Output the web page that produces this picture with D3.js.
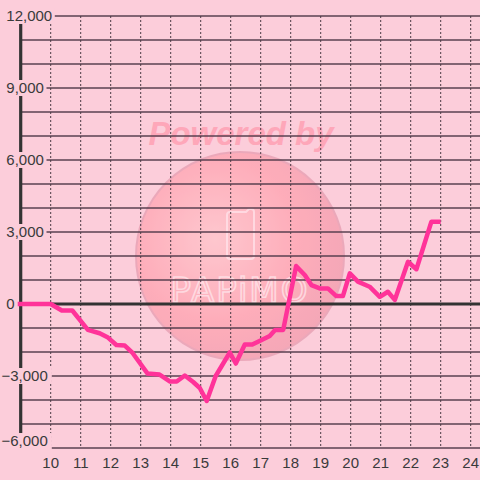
<!DOCTYPE html>
<html><head><meta charset="utf-8">
<script src="https://cdn.jsdelivr.net/npm/d3@7"></script>
<style>html,body{margin:0;padding:0;background:#fccdda;}svg{display:block;}</style>
</head><body>
<svg id="c" width="480" height="480"></svg>
<script>
const hours = [8.9, 10.0, 10.37, 10.72, 11.24, 11.63, 11.91, 12.19, 12.47, 12.73, 13.23, 13.63, 13.98, 14.2, 14.47, 14.75, 14.97, 15.2, 15.5, 15.97, 16.17, 16.47, 16.72, 17.03, 17.3, 17.48, 17.75, 18.18, 18.47, 18.69, 18.97, 19.24, 19.52, 19.74, 19.97, 20.24, 20.63, 20.97, 21.24, 21.47, 21.91, 22.19, 22.69, 23.0];
const values = [0, 0, -270, -270, -1080, -1220, -1400, -1710, -1730, -2040, -2900, -2940, -3230, -3230, -2980, -3250, -3500, -4040, -3000, -2020, -2480, -1690, -1690, -1500, -1330, -1080, -1080, 1580, 1210, 790, 650, 650, 330, 330, 1280, 930, 720, 300, 510, 170, 1760, 1450, 3430, 3430];
const xTicks = [10, 11, 12, 13, 14, 15, 16, 17, 18, 19, 20, 21, 22, 23, 24];
const yTickLabels = [-6000, -3000, 0, 3000, 6000, 9000, 12000];
const yGridValues = d3.range(-6000, 12001, 1000);

const svg = d3.select("#c");
const x = d3.scaleLinear().domain([9, 24.3]).range([20.7, 479.7]);
const y = d3.scaleLinear().domain([-6000, 12000]).range([448, 16]);

svg.append("rect").attr("width", 480).attr("height", 480).attr("fill", "#fccdda");

// watermark
const defs = svg.append("defs");
const rg = defs.append("radialGradient").attr("id", "wg")
  .attr("cx", "0.38").attr("cy", "0.42").attr("r", "0.7");
rg.append("stop").attr("offset", "0").attr("stop-color", "#ffc6cc");
rg.append("stop").attr("offset", "0.55").attr("stop-color", "#ffa6b3");
rg.append("stop").attr("offset", "1").attr("stop-color", "#f09cae");
const wm = svg.append("g");
wm.append("circle").attr("cx", 240).attr("cy", 256).attr("r", 104)
  .attr("fill", "url(#wg)").attr("opacity", 0.8)
  .attr("stroke", "#e8a0b3").attr("stroke-width", 2);
wm.append("text").attr("x", 241).attr("y", 145).attr("text-anchor", "middle")
  .attr("font-family", "Liberation Sans, Arial, sans-serif").attr("font-size", 33)
  .attr("font-weight", "bold").attr("font-style", "italic")
  .attr("fill", "#ffa3b6").attr("opacity", 0.9).text("Powered by");
wm.append("path").attr("d", "M230,212 h16 l3,-3 h2 a3,3 0 0 1 3,3 v44 a3,3 0 0 1 -3,3 h-21 a3,3 0 0 1 -3,-3 v-41 a3,3 0 0 1 3,-3 z")
  .attr("fill", "none").attr("stroke", "#ffe6ec").attr("stroke-width", 2).attr("opacity", 0.7);
wm.append("text").attr("x", 240).attr("y", 302).attr("text-anchor", "middle")
  .attr("font-family", "DejaVu Sans, sans-serif").attr("font-size", 34).attr("letter-spacing", 2)
  .attr("fill", "none").attr("stroke", "#ffe6ec").attr("stroke-width", 1.6).attr("opacity", 0.75)
  .text("PAPiMO");

// horizontal gridlines
svg.append("g").selectAll("line").data(yGridValues.filter(v => v !== 0)).join("line")
  .attr("x1", x(9)).attr("x2", 480).attr("y1", d => y(d)).attr("y2", d => y(d))
  .attr("stroke", "#5a4050").attr("stroke-width", 1.3);

// vertical dotted gridlines
svg.append("g").selectAll("line").data(xTicks).join("line")
  .attr("x1", d => x(d)).attr("x2", d => x(d)).attr("y1", y(12000)).attr("y2", y(-6000))
  .attr("stroke", "#4a3a44").attr("stroke-width", 1).attr("stroke-dasharray", "2,2");

// zero line
svg.append("line").attr("x1", x(9)).attr("x2", 480).attr("y1", y(0)).attr("y2", y(0))
  .attr("stroke", "#333333").attr("stroke-width", 3.2);

// left axis
svg.append("line").attr("x1", x(9)).attr("x2", x(9)).attr("y1", y(12000)).attr("y2", y(-6000))
  .attr("stroke", "#333333").attr("stroke-width", 3.2);

// data line
const line = d3.line().x((d, i) => x(hours[i])).y(d => y(d));
svg.append("path").datum(values).attr("d", line)
  .attr("fill", "none").attr("stroke", "#ff3399").attr("stroke-width", 4.5)
  .attr("stroke-linejoin", "round");

// y labels with background
const fmt = d3.format(",");
const labelY = d => Math.min(y(d), 441);
const yl = svg.append("g").selectAll("g").data(yTickLabels).join("g");
yl.append("rect").attr("x", d => d < 0 ? 1 : 5).attr("y", d => labelY(d) - 8)
  .attr("width", d => fmt(d).length * 8.3 + (d < 0 ? 1 : 0)).attr("height", 16)
  .attr("fill", "#fccdda");
yl.append("text").attr("x", d => d < 0 ? 1.5 : 6.3).attr("y", d => labelY(d) + 5.4)
  .attr("font-family", "Liberation Sans, Arial, sans-serif").attr("font-size", 15)
  .attr("fill", "#3a3a3a").text(d => fmt(d));

// x labels
svg.append("g").selectAll("text").data(xTicks).join("text")
  .attr("x", d => x(d)).attr("y", 467.5).attr("text-anchor", "middle")
  .attr("font-family", "Liberation Sans, Arial, sans-serif").attr("font-size", 15)
  .attr("fill", "#3a3a3a").text(d => d);
</script>
</body></html>
